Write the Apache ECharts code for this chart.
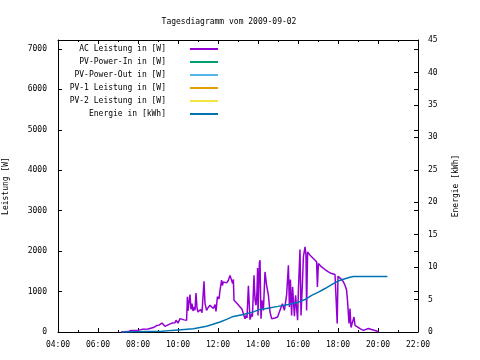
<!DOCTYPE html>
<html><head><meta charset="utf-8">
<script src="https://cdn.jsdelivr.net/npm/echarts@6/dist/echarts.min.js"></script>
<style>html,body{margin:0;padding:0;background:#fff}#c{width:480px;height:360px}</style>
</head><body><div id="c"></div>
<script>
// ---- data (hours of day, W / kWh) ----
var titleText = 'Tagesdiagramm vom 2009-09-02';
var seriesNames = ['AC Leistung in [W]','PV-Power-In in [W]','PV-Power-Out in [W]','PV-1 Leistung in [W]','PV-2 Leistung in [W]','Energie in [kWh]'];
var seriesColors = ['#9400d3','#009e73','#56b4e9','#e69f00','#f0e442','#0072b2'];
var acTimes = [7.15,7.5,7.6,7.65,8.0,8.2,8.5,8.77,8.93,9.05,9.2,9.3,9.35,9.5,9.7,9.85,9.9,10.0,10.1,10.15,10.3,10.43,10.47,10.5,10.55,10.6,10.65,10.7,10.75,10.8,10.85,10.9,10.95,11.0,11.07,11.13,11.2,11.3,11.35,11.43,11.5,11.6,11.7,11.77,11.85,11.9,11.97,12.05,12.1,12.18,12.22,12.27,12.35,12.43,12.52,12.6,12.68,12.73,12.77,12.8,12.9,12.97,13.05,13.1,13.2,13.27,13.35,13.4,13.45,13.52,13.6,13.68,13.72,13.8,13.85,13.9,13.95,13.98,14.0,14.07,14.1,14.15,14.2,14.27,14.35,14.43,14.52,14.6,14.68,14.77,14.85,14.98,15.1,15.22,15.32,15.43,15.52,15.57,15.62,15.68,15.73,15.82,15.88,15.98,16.02,16.1,16.15,16.22,16.27,16.35,16.4,16.43,16.48,16.6,16.77,16.93,16.97,17.02,17.18,17.35,17.52,17.68,17.85,17.93,17.96,18.0,18.13,18.27,18.35,18.43,18.48,18.55,18.6,18.65,18.72,18.8,18.85,18.93,19.1,19.27,19.52,19.68,19.93,20.02];
var acValues = [0,10,20,35,40,65,75,110,160,170,220,190,140,175,220,230,290,220,330,320,300,290,870,520,740,925,560,700,520,620,540,965,600,495,520,555,480,1255,700,535,600,660,620,580,680,510,870,820,1030,1280,1150,1240,1200,1215,1280,1400,1420,1200,1300,785,750,700,650,620,560,535,330,410,350,1140,305,455,380,1400,800,660,1005,1580,410,1710,1775,330,785,535,1485,1155,910,495,330,290,345,370,535,700,535,910,1650,620,1300,410,1115,390,910,290,1030,2040,410,1200,1855,2105,1900,535,1980,1900,1815,1735,1115,1695,1610,1545,1485,1445,1420,1420,210,1380,1320,1240,1155,1030,745,210,580,110,110,370,165,140,85,40,85,60,25,0];
var energyTimes = [7.2,9.2,9.7,10.77,11.1,11.43,11.75,12.1,12.43,12.77,13.27,13.77,14.07,14.35,15.0,15.52,16.02,16.35,16.68,17.02,17.35,17.77,18.0,18.35,18.6,18.77,20.47];
var energyValues = [0,0.1,0.25,0.5,0.7,0.9,1.2,1.55,1.95,2.4,2.7,3.1,3.45,3.6,3.95,4.25,4.6,5.0,5.65,6.15,6.7,7.45,7.85,8.2,8.45,8.55,8.55];
var xMin = 4, xMax = 22, xStep = 2;
var yLeftMax = 7220, yLeftStep = 1000;
var yRightMax = 45, yRightStep = 5;
var leftAxisName = 'Leistung [W]';
var rightAxisName = 'Energie [kWh]';

function pairs(t, v){ return t.map(function(x,i){ return [x, v[i]]; }); }
var FONT = 'DejaVu Sans Mono';
var tStyle = {fontFamily: FONT, fontSize: 8, color: '#000'};
var series = seriesNames.map(function(n, i){
  var s = {name: n, type: 'line', showSymbol: false, symbol: 'none', animation: false,
    lineStyle: {color: seriesColors[i], width: 1.5}, itemStyle: {color: seriesColors[i]}, data: []};
  if (i === 0) s.data = pairs(acTimes, acValues);
  if (i === 5) { s.data = pairs(energyTimes, energyValues); s.yAxisIndex = 1; }
  return s;
});
var plain = function(v){ return String(v); };
var chart = echarts.init(document.getElementById('c'), null, {renderer: 'canvas'});
chart.setOption({
  animation: false,
  backgroundColor: '#fff',
  title: {text: titleText, left: 224, top: 13, textAlign: 'center',
    textStyle: {fontFamily: FONT, fontSize: 8, fontWeight: 'normal', color: '#000'}},
  legend: {orient: 'vertical', align: 'right', right: 262, top: 45, padding: 0,
    itemWidth: 28, itemHeight: 2, itemGap: 5, icon: 'rect',
    textStyle: {fontFamily: FONT, fontSize: 8, color: '#000', padding: [0, 19, 0, 0]},
    data: seriesNames},
  grid: {left: 58, right: 62, top: 40, bottom: 28, containLabel: false, outerBoundsMode: 'none'},
  xAxis: [{type: 'value', min: xMin, max: xMax, interval: xStep, position: 'bottom',
    axisLine: {show: true, onZero: false, lineStyle: {color: '#000', width: 1}},
    axisTick: {show: true, inside: true, length: 4, lineStyle: {color: '#000'}},
    minorTick: {show: true, splitNumber: 2, length: 2, lineStyle: {color: '#000'}},
    splitLine: {show: false},
    axisLabel: Object.assign({margin: 9, formatter: function(v){ return (v < 10 ? '0' : '') + v + ':00'; }}, tStyle)},
   {type: 'value', min: xMin, max: xMax, interval: xStep, position: 'top',
    axisLine: {show: true, onZero: false, lineStyle: {color: '#000', width: 1}},
    axisTick: {show: true, inside: true, length: 4, lineStyle: {color: '#000'}},
    minorTick: {show: true, splitNumber: 2, length: 2, lineStyle: {color: '#000'}},
    splitLine: {show: false}, axisLabel: {show: false}}],
  yAxis: [{type: 'value', min: 0, max: yLeftMax, interval: yLeftStep, position: 'left',
    name: leftAxisName, nameLocation: 'middle', nameGap: 48, nameRotate: 90,
    nameTextStyle: tStyle,
    axisLine: {show: true, onZero: false, lineStyle: {color: '#000', width: 1}},
    axisTick: {show: true, inside: true, length: 4, lineStyle: {color: '#000'}},
    splitLine: {show: false},
    axisLabel: Object.assign({margin: 11, showMaxLabel: false, formatter: plain}, tStyle)},
   {type: 'value', min: 0, max: yRightMax, interval: yRightStep, position: 'right',
    name: rightAxisName, nameLocation: 'middle', nameGap: 34, nameRotate: 90,
    nameTextStyle: tStyle,
    axisLine: {show: true, onZero: false, lineStyle: {color: '#000', width: 1}},
    axisTick: {show: true, inside: true, length: 4, lineStyle: {color: '#000'}},
    splitLine: {show: false},
    axisLabel: Object.assign({margin: 10, formatter: plain}, tStyle)},
   {type: 'value', min: 0, max: yLeftMax, interval: yLeftStep, position: 'right',
    axisLine: {show: false},
    axisTick: {show: true, inside: true, length: 4, lineStyle: {color: '#000'}},
    splitLine: {show: false}, axisLabel: {show: false}}],
  series: series
});
</script></body></html>
